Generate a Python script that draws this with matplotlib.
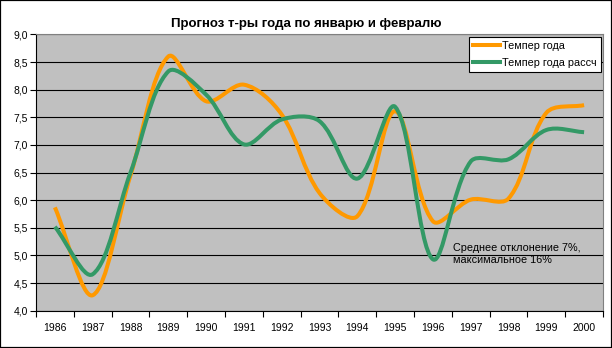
import matplotlib
matplotlib.use('Agg')
import matplotlib.pyplot as plt
from matplotlib.path import Path
from matplotlib.patches import PathPatch, Rectangle
from matplotlib.lines import Line2D
import numpy as np

plt.rcParams['font.family'] = ['Liberation Sans', 'DejaVu Sans']

# Yearly values
years = ['1986', '1987', '1988', '1989', '1990', '1991', '1992', '1993',
         '1994', '1995', '1996', '1997', '1998', '1999', '2000']
temp_actual = [5.87, 4.28, 6.45, 8.60, 7.79, 8.09, 7.55, 6.13,
               5.71, 7.61, 5.62, 6.01, 6.03, 7.58, 7.72]
temp_calc = [5.52, 4.66, 6.50, 8.33, 7.91, 7.01, 7.46, 7.43,
             6.39, 7.69, 4.93, 6.70, 6.74, 7.27, 7.23]
yticks = [4.0, 4.5, 5.0, 5.5, 6.0, 6.5, 7.0, 7.5, 8.0, 8.5, 9.0]
ytick_labels = ['4,0', '4,5', '5,0', '5,5', '6,0', '6,5', '7,0', '7,5',
                '8,0', '8,5', '9,0']

title = 'Прогноз т-ры года по январю и февралю'
label_actual = 'Темпер года'
label_calc = 'Темпер года рассч'
note = 'Среднее отклонение 7%,\nмаксимальное 16%'

c_actual = '#FF9900'
c_calc = '#339966'

# plot area in pixels
W, H = 612, 348
ax_left, ax_right, ax_top, ax_bottom = 36, 603, 34.4, 310.7


def smooth_path(x, y, sy):
    # cubic Bezier through every point; tangents follow the neighbours and
    # the handle lengths follow the on-screen segment lengths
    x = np.asarray(x, float)
    y = np.asarray(y, float)
    n = len(x)
    pts = np.column_stack([x, y * sy])
    verts = [(x[0], y[0])]
    codes = [Path.MOVETO]
    for i in range(n - 1):
        p0 = pts[max(i - 1, 0)]
        p1 = pts[i]
        p2 = pts[i + 1]
        p3 = pts[min(i + 2, n - 1)]
        d1 = np.hypot(*(p1 - p0))
        d2 = np.hypot(*(p2 - p1))
        d3 = np.hypot(*(p3 - p2))
        c1 = p1 + (p2 - p0) / 6.0 * (2 * d2 / (d1 + d2))
        c2 = p2 - (p3 - p1) / 6.0 * (2 * d2 / (d2 + d3))
        for c in (c1, c2, p2):
            verts.append((c[0], c[1] / sy))
        codes += [Path.CURVE4] * 3
    return Path(verts, codes)


fig = plt.figure(figsize=(W / 100, H / 100), dpi=100)
ax = fig.add_axes([ax_left / W, 1 - ax_bottom / H,
                   (ax_right - ax_left) / W, (ax_bottom - ax_top) / H])
ax.set_facecolor('#C0C0C0')

ymin, ymax = 4.0, 9.0
ax.set_xlim(0, len(years))
ax.set_ylim(ymin, ymax)

# pixels per y unit relative to pixels per category
sy = ((ax_bottom - ax_top) / (ymax - ymin)) / ((ax_right - ax_left) / len(years))

xs = np.arange(len(years)) + 0.5
for vals, col in [(temp_actual, c_actual), (temp_calc, c_calc)]:
    ax.add_patch(PathPatch(smooth_path(xs, vals, sy), fill=False,
                           edgecolor=col, lw=2.9, capstyle='butt',
                           joinstyle='round', zorder=3))

# category boundaries get the tick marks, centers get the labels
ax.set_xticks(np.arange(len(years) + 1))
ax.set_xticklabels([])
ax.set_xticks(xs, minor=True)
ax.set_xticklabels(years, minor=True, fontsize=7.5)
ax.tick_params(axis='x', which='major', length=4, width=0.8, direction='out')
ax.tick_params(axis='x', which='minor', length=0, pad=9)

ax.set_yticks(yticks)
ax.set_yticklabels(ytick_labels, fontsize=7.5)
ax.tick_params(axis='y', length=4, width=0.8, direction='out', pad=2)

ax.yaxis.grid(True, color='black', lw=0.8)
ax.set_axisbelow(True)

for side in ['left', 'bottom']:
    ax.spines[side].set_color('black')
    ax.spines[side].set_linewidth(0.8)
for side in ['top', 'right']:
    ax.spines[side].set_color('#808080')
    ax.spines[side].set_linewidth(0.8)

handles = [Line2D([], [], color=c_actual, lw=2.9),
           Line2D([], [], color=c_calc, lw=2.9)]
leg = ax.legend(handles, [label_actual, label_calc], loc='upper right',
                bbox_to_anchor=(0.996, 0.992), borderaxespad=0,
                fontsize=7.8, fancybox=False, framealpha=1,
                edgecolor='black', handlelength=2.5, handletextpad=0.15,
                labelspacing=0.65, borderpad=0.4)
leg.get_frame().set_linewidth(0.8)

ax.text(0.735, 0.245, note, transform=ax.transAxes, fontsize=7.8,
        ha='left', va='top', linespacing=1.3)

fig.text(0.5, 1 - 26.7 / H, title, ha='center', va='baseline',
         fontsize=9.5, fontweight='bold')

fig.add_artist(Rectangle((0, 0), 1, 1, fill=False, ec='black', lw=1.6,
                         transform=fig.transFigure))

fig.savefig('out.png', dpi=100)
